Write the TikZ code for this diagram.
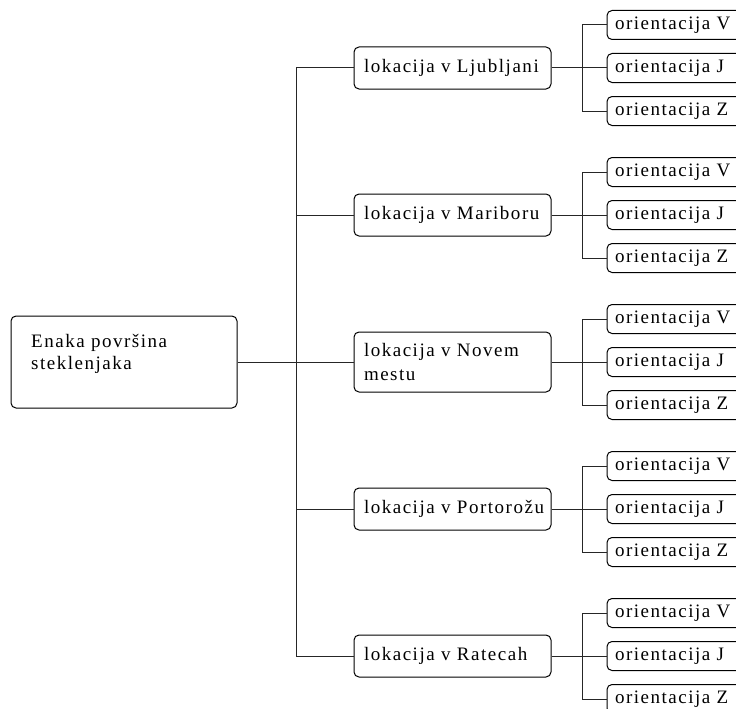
\documentclass[tikz,border=0pt]{standalone}
\usepackage{fontspec}
\setmainfont[LetterSpace=8]{Liberation Serif}
\begin{document}
\begin{tikzpicture}[x=1pt,y=-1pt,
  every node/.style={font=\fontsize{19}{22}\selectfont, text=black},
  box/.style={draw=black, line width=1pt, rounded corners=5pt},
  midbox/.style={box, minimum width=197pt, text width=177pt, inner xsep=10pt, align=left, minimum height=42pt},
  leafbox/.style={box, minimum width=140pt, text width=124pt, inner xsep=8pt, align=left, minimum height=29pt},
  conn/.style={draw=black!85, line width=1pt}]
\path[use as bounding box] (0,0) rectangle (736,709);
\clip (0,0) rectangle (736,709);
\node[box, minimum width=226pt, minimum height=92pt] (root) at (124,362) {};
\node[anchor=base west, inner sep=0pt] (roottext) at (31,347) {Enaka površina};
\node[anchor=base west, inner sep=0pt] (roottext2) at (31,369) {steklenjaka};
\coordinate (tx) at (296,0);
\coordinate (lx) at (582,0);
\foreach \i/\t [count=\g from 0] in {1/\mbox{lokacija v Ljubljani}, 2/\mbox{lokacija v Mariboru}, 3/{lokacija v Novem\\mestu}, 4/\mbox{lokacija v Portorožu}, 5/\mbox{lokacija v Ratecah}}{
  \pgfmathsetmacro{\cy}{68+147*\g}
  \ifnum\i=3
    \node[midbox, minimum height=60pt, font=\fontsize{19}{24}\selectfont] (m\i) at (452.5,\cy) {\t};
  \else
    \node[midbox] (m\i) at (452.5,\cy) {\t};
  \fi
  \node[leafbox] (v\i) at (677,\cy-43) {orientacija V};
  \node[leafbox] (j\i) at (677,\cy) {orientacija J};
  \node[leafbox] (z\i) at (677,\cy+43) {orientacija Z};
  \draw[conn] (m\i.east) -- (j\i.west);
  \draw[conn] (v\i.west) -- (v\i.west -| lx) |- (z\i.west);
  \draw[conn] (m\i.west) -- (m\i.west -| tx);
}
\draw[conn] (root.east) -- (m3.west);
\draw[conn] (m1.west -| tx) -- (m5.west -| tx);
\end{tikzpicture}
\end{document}
